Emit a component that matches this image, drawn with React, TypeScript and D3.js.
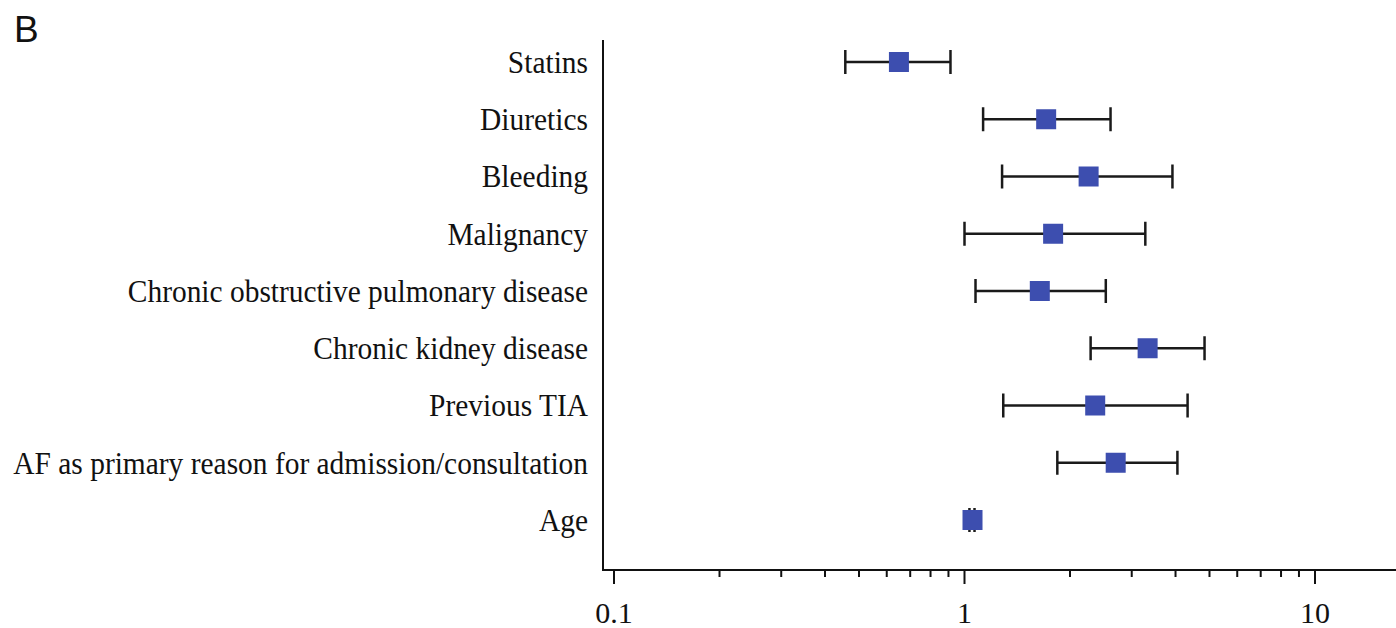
import React, { useEffect, useRef } from 'react';
import * as d3 from 'd3';

const factors = [
  'Statins',
  'Diuretics',
  'Bleeding',
  'Malignancy',
  'Chronic obstructive pulmonary disease',
  'Chronic kidney disease',
  'Previous TIA',
  'AF as primary reason for admission/consultation',
  'Age',
];
const oddsRatio = [0.65, 1.71, 2.26, 1.79, 1.64, 3.33, 2.36, 2.7, 1.054];
const ciLow = [0.457, 1.13, 1.28, 1.0, 1.075, 2.29, 1.29, 1.84, 1.033];
const ciHigh = [0.912, 2.61, 3.92, 3.28, 2.53, 4.84, 4.33, 4.05, 1.068];
const majorTicks = [0.1, 1, 10];
const minorTicks = [0.2, 0.3, 0.4, 0.5, 0.6, 0.7, 0.8, 0.9, 2, 3, 4, 5, 6, 7, 8, 9];

const W = 1396;
const H = 628;

export default function App() {
  const svgRef = useRef<SVGSVGElement>(null);

  useEffect(() => {
    if (!svgRef.current) return;
    const svg = d3.select(svgRef.current);
    svg.selectAll('*').remove();

    const axisX = 603;
    const axisY = 570;
    const serif = '"Liberation Serif", "Times New Roman", serif';
    const squeeze = 0.95; // labels look slightly condensed

    const x = d3.scaleLog().domain([0.1, 10]).range([614, 1315]);
    const y = d3.scalePoint<string>().domain(factors).range([62, 520]);

    // panel letter
    svg.append('text')
      .attr('x', 14)
      .attr('y', 42)
      .attr('font-family', '"Liberation Sans", Arial, sans-serif')
      .attr('font-size', 37)
      .attr('fill', '#111')
      .text('B');

    // axes lines
    svg.append('line')
      .attr('x1', axisX).attr('x2', axisX)
      .attr('y1', 40).attr('y2', axisY + 1)
      .attr('stroke', '#111').attr('stroke-width', 2);
    svg.append('line')
      .attr('x1', axisX - 1).attr('x2', W)
      .attr('y1', axisY).attr('y2', axisY)
      .attr('stroke', '#111').attr('stroke-width', 2);

    // ticks
    svg.selectAll('.major')
      .data(majorTicks)
      .enter()
      .append('line')
      .attr('x1', d => x(d)).attr('x2', d => x(d))
      .attr('y1', axisY).attr('y2', axisY + 14)
      .attr('stroke', '#111').attr('stroke-width', 2);
    svg.selectAll('.minor')
      .data(minorTicks)
      .enter()
      .append('line')
      .attr('x1', d => x(d)).attr('x2', d => x(d))
      .attr('y1', axisY).attr('y2', axisY + 7)
      .attr('stroke', '#111').attr('stroke-width', 2);
    svg.selectAll('.tick-label')
      .data(majorTicks)
      .enter()
      .append('text')
      .attr('x', d => x(d))
      .attr('y', 623)
      .attr('text-anchor', 'middle')
      .attr('font-family', serif)
      .attr('font-size', 30)
      .attr('fill', '#111')
      .text(d => String(d));

    // row labels
    svg.append('g')
      .attr('transform', `scale(${squeeze},1)`)
      .selectAll('text')
      .data(factors)
      .enter()
      .append('text')
      .attr('x', 588 / squeeze)
      .attr('y', d => (y(d) as number) + 11)
      .attr('text-anchor', 'end')
      .attr('font-family', serif)
      .attr('font-size', 31)
      .attr('fill', '#111')
      .text(d => d);

    const rows = factors.map((f, i) => ({ f, or: oddsRatio[i], lo: ciLow[i], hi: ciHigh[i] }));
    const cap = 12;

    const g = svg.selectAll('.row').data(rows).enter().append('g');
    g.append('line')
      .attr('x1', d => x(d.lo)).attr('x2', d => x(d.hi))
      .attr('y1', d => y(d.f) as number).attr('y2', d => y(d.f) as number)
      .attr('stroke', '#1a1a1a').attr('stroke-width', 2.5);
    g.append('line')
      .attr('x1', d => x(d.lo)).attr('x2', d => x(d.lo))
      .attr('y1', d => (y(d.f) as number) - cap).attr('y2', d => (y(d.f) as number) + cap)
      .attr('stroke', '#1a1a1a').attr('stroke-width', 2.5);
    g.append('line')
      .attr('x1', d => x(d.hi)).attr('x2', d => x(d.hi))
      .attr('y1', d => (y(d.f) as number) - cap).attr('y2', d => (y(d.f) as number) + cap)
      .attr('stroke', '#1a1a1a').attr('stroke-width', 2.5);
    g.append('rect')
      .attr('x', d => x(d.or) - 10)
      .attr('y', d => (y(d.f) as number) - 10)
      .attr('width', 20)
      .attr('height', 20)
      .attr('fill', '#3d4eaf');
  }, []);

  return (
    <svg
      ref={svgRef}
      width={W}
      height={H}
      style={{ position: 'absolute', left: 0, top: 0, background: '#fff' }}
    />
  );
}
